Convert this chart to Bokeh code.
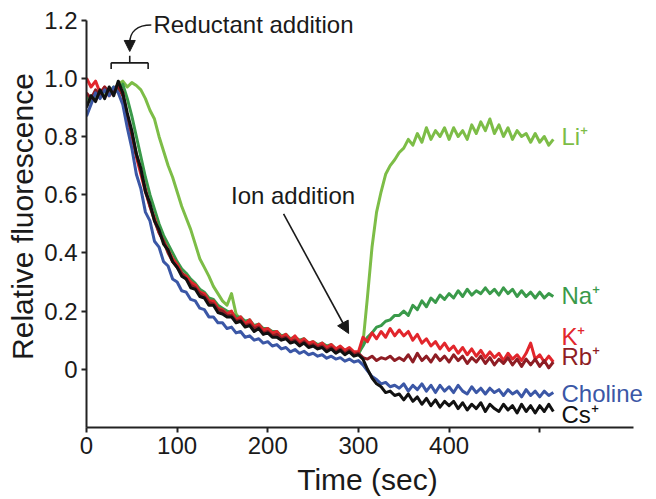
from bokeh.plotting import figure
from bokeh.models import Range1d, FixedTicker, Label, Arrow, NormalHead
from bokeh.embed import file_html
from bokeh.resources import INLINE

# time axis (sec), one sample every 5 s
time_s = list(range(0, 520, 5))

cs = [0.90, 0.94, 0.92, 0.96, 0.93, 0.97, 0.94, 0.99, 0.95, 0.88,
      0.82, 0.74, 0.69, 0.61, 0.57, 0.51, 0.48, 0.43, 0.41, 0.37,
      0.35, 0.32, 0.31, 0.28, 0.275, 0.25, 0.245, 0.22, 0.22, 0.195,
      0.19, 0.18, 0.18, 0.16, 0.165, 0.145, 0.15, 0.13, 0.14, 0.12,
      0.125, 0.11, 0.11, 0.10, 0.105, 0.09, 0.095, 0.08, 0.09, 0.075,
      0.08, 0.07, 0.075, 0.06, 0.07, 0.055, 0.065, 0.05, 0.06, 0.045,
      0.05, 0.035, 0.00, -0.03, -0.05, -0.06, -0.08, -0.075, -0.09, -0.085,
      -0.105, -0.085, -0.11, -0.095, -0.12, -0.10, -0.125, -0.105, -0.13, -0.11,
      -0.125, -0.11, -0.135, -0.115, -0.14, -0.12, -0.135, -0.115, -0.145, -0.12,
      -0.135, -0.145, -0.12, -0.14, -0.125, -0.15, -0.12, -0.145, -0.125, -0.15,
      -0.125, -0.145, -0.12, -0.145]

choline = [0.87, 0.91, 0.95, 0.93, 0.96, 0.94, 0.97, 0.95, 0.91, 0.83,
           0.76, 0.67, 0.62, 0.54, 0.51, 0.44, 0.42, 0.37, 0.355, 0.31,
           0.30, 0.27, 0.265, 0.24, 0.235, 0.21, 0.205, 0.18, 0.18, 0.16,
           0.16, 0.14, 0.145, 0.125, 0.13, 0.11, 0.115, 0.10, 0.105, 0.09,
           0.095, 0.08, 0.085, 0.07, 0.075, 0.06, 0.068, 0.055, 0.062, 0.05,
           0.055, 0.045, 0.05, 0.038, 0.045, 0.035, 0.04, 0.028, 0.035, 0.025,
           0.03, 0.015, -0.005, -0.025, -0.035, -0.05, -0.045, -0.06, -0.055, -0.065,
           -0.05, -0.075, -0.055, -0.07, -0.05, -0.075, -0.055, -0.08, -0.055, -0.075,
           -0.06, -0.08, -0.055, -0.075, -0.085, -0.06, -0.08, -0.065, -0.085, -0.065,
           -0.08, -0.07, -0.09, -0.07, -0.085, -0.075, -0.095, -0.07, -0.09, -0.075,
           -0.095, -0.075, -0.09, -0.08]

k = [1.00, 0.97, 0.99, 0.95, 0.97, 0.94, 0.96, 0.98, 0.95, 0.87,
     0.80, 0.73, 0.67, 0.61, 0.56, 0.52, 0.47, 0.44, 0.41, 0.38,
     0.36, 0.33, 0.32, 0.30, 0.29, 0.265, 0.26, 0.235, 0.235, 0.21,
     0.205, 0.19, 0.20, 0.17, 0.18, 0.155, 0.17, 0.145, 0.155, 0.135,
     0.14, 0.125, 0.13, 0.11, 0.12, 0.10, 0.115, 0.095, 0.105, 0.09,
     0.095, 0.08, 0.09, 0.075, 0.085, 0.07, 0.08, 0.065, 0.075, 0.06,
     0.06, 0.11, 0.095, 0.125, 0.105, 0.13, 0.11, 0.14, 0.115, 0.135,
     0.115, 0.13, 0.10, 0.12, 0.09, 0.105, 0.08, 0.095, 0.07, 0.09,
     0.065, 0.08, 0.055, 0.075, 0.05, 0.07, 0.045, 0.065, 0.04, 0.06,
     0.04, 0.055, 0.03, 0.055, 0.035, 0.05, 0.03, 0.055, 0.09, 0.035,
     0.05, 0.025, 0.045, 0.025]

rb = [0.95, 0.93, 0.96, 0.94, 0.97, 0.95, 0.96, 0.97, 0.94, 0.87,
      0.81, 0.74, 0.68, 0.62, 0.56, 0.51, 0.47, 0.44, 0.40, 0.37,
      0.35, 0.33, 0.31, 0.29, 0.28, 0.26, 0.25, 0.23, 0.225, 0.205,
      0.20, 0.185, 0.185, 0.165, 0.17, 0.15, 0.155, 0.14, 0.145, 0.125,
      0.13, 0.115, 0.12, 0.105, 0.11, 0.095, 0.10, 0.085, 0.095, 0.08,
      0.085, 0.075, 0.08, 0.065, 0.075, 0.06, 0.07, 0.055, 0.065, 0.05,
      0.055, 0.04, 0.035, 0.045, 0.03, 0.04, 0.035, 0.045, 0.03, 0.04,
      0.03, 0.05, 0.025, 0.055, 0.03, 0.045, 0.025, 0.05, 0.03, 0.045,
      0.025, 0.05, 0.03, 0.045, 0.02, 0.04, 0.025, 0.045, 0.02, 0.04,
      0.015, 0.035, 0.02, 0.04, 0.015, 0.035, 0.01, 0.035, 0.015, 0.035,
      0.01, 0.03, 0.005, 0.025]

na = [0.94, 0.92, 0.95, 0.94, 0.96, 0.95, 0.97, 0.96, 0.98, 0.93,
      0.87, 0.80, 0.73, 0.66, 0.60, 0.55, 0.50, 0.46, 0.43, 0.40,
      0.37, 0.345, 0.33, 0.31, 0.295, 0.275, 0.265, 0.245, 0.24, 0.22,
      0.21, 0.20, 0.195, 0.18, 0.18, 0.165, 0.17, 0.15, 0.155, 0.14,
      0.14, 0.13, 0.13, 0.115, 0.12, 0.105, 0.11, 0.10, 0.105, 0.09,
      0.095, 0.085, 0.09, 0.08, 0.085, 0.07, 0.075, 0.065, 0.07, 0.055,
      0.055, 0.08, 0.11, 0.125, 0.145, 0.15, 0.165, 0.17, 0.185, 0.185,
      0.20, 0.185, 0.22, 0.205, 0.235, 0.215, 0.245, 0.23, 0.255, 0.24,
      0.26, 0.245, 0.27, 0.25, 0.275, 0.255, 0.27, 0.26, 0.28, 0.26,
      0.275, 0.255, 0.28, 0.26, 0.275, 0.25, 0.27, 0.25, 0.265, 0.245,
      0.265, 0.245, 0.26, 0.25]

li = [0.92, 0.94, 0.93, 0.95, 0.94, 0.96, 0.95, 0.98, 0.99, 0.97,
      0.985, 0.975, 0.96, 0.93, 0.89, 0.86, 0.80, 0.75, 0.70, 0.66,
      0.61, 0.56, 0.52, 0.48, 0.43, 0.38, 0.35, 0.32, 0.285, 0.26,
      0.235, 0.22, 0.26, 0.19, 0.17, 0.16, 0.15, 0.145, 0.14, 0.13,
      0.13, 0.12, 0.12, 0.11, 0.11, 0.10, 0.10, 0.09, 0.095, 0.085,
      0.085, 0.08, 0.08, 0.07, 0.075, 0.065, 0.07, 0.06, 0.06, 0.055,
      0.05, 0.09, 0.25, 0.42, 0.54, 0.61, 0.67, 0.70, 0.72, 0.745,
      0.76, 0.79, 0.77, 0.81, 0.78, 0.83, 0.79, 0.82, 0.80, 0.83,
      0.79, 0.83, 0.80, 0.82, 0.79, 0.84, 0.81, 0.85, 0.82, 0.86,
      0.81, 0.84, 0.80, 0.83, 0.79, 0.82, 0.80, 0.81, 0.78, 0.81,
      0.78, 0.80, 0.77, 0.79]

series_names = ["Li\u207a", "Na\u207a", "K\u207a", "Rb\u207a", "Choline", "Cs\u207a"]
series_values = [li, na, k, rb, choline, cs]
series_colors = ["#7dbd47", "#3a9a4a", "#e2262c", "#8e1d24", "#3b57a6", "#111111"]
label_y = [0.80, 0.255, 0.114, 0.043, -0.082, -0.154]
label_x = 524

x_ticks = [0, 100, 200, 300, 400, 500]
x_tick_labels = ["0", "100", "200", "300", "400", ""]
y_ticks = [0, 0.2, 0.4, 0.6, 0.8, 1.0, 1.2]
y_tick_labels = ["0", "0.2", "0.4", "0.6", "0.8", "1.0", "1.2"]

FONT = "Liberation Sans"
INK = "#1a1a1a"

p = figure(width=654, height=498, output_backend="svg", toolbar_location=None,
           x_range=Range1d(0, 620), y_range=Range1d(-0.2, 1.25),
           min_border_left=86, min_border_right=6, min_border_top=5, min_border_bottom=70)
p.outline_line_color = None
p.xgrid.visible = False
p.ygrid.visible = False
p.background_fill_color = "white"

for ax in (p.xaxis[0], p.yaxis[0]):
    ax.axis_line_width = 2
    ax.axis_line_color = "#222222"
    ax.major_tick_line_width = 2
    ax.major_tick_line_color = "#222222"
    ax.major_tick_out = 5
    ax.major_tick_in = 0
    ax.minor_tick_line_color = None
    ax.major_label_text_font = FONT
    ax.major_label_text_font_size = "24px"
    ax.major_label_text_color = INK
    ax.major_label_standoff = 4
    ax.axis_label_text_font = FONT
    ax.axis_label_text_font_style = "normal"
    ax.axis_label_text_font_size = "30px"
    ax.axis_label_text_color = INK

p.xaxis.axis_label_standoff = 6
p.yaxis.axis_label_standoff = 2
p.xaxis.bounds = (0, 604)
p.yaxis.bounds = (-0.2, 1.2)
p.xaxis.ticker = FixedTicker(ticks=x_ticks)
p.xaxis.major_label_overrides = dict(zip(x_ticks, x_tick_labels))
p.yaxis.ticker = FixedTicker(ticks=y_ticks)
p.yaxis.major_label_overrides = dict(zip(y_ticks, y_tick_labels))
p.xaxis.axis_label = "Time (sec)"
p.yaxis.axis_label = "Relative fluorescence"

for vals, col in zip(series_values, series_colors):
    p.line(time_s, vals, line_color=col, line_width=3, line_join="round")

for name, col, ly in zip(series_names, series_colors, label_y):
    p.add_layout(Label(x=label_x, y=ly, text=name, text_color=col, text_font=FONT,
                       text_font_size="24px", text_baseline="middle", text_align="left"))

# annotations
p.add_layout(Label(x=73.8, y=1.183, text="Reductant addition", text_font=FONT,
                   text_font_size="24px", text_baseline="middle", text_color=INK))
p.add_layout(Label(x=159.4, y=0.597, text="Ion addition", text_font=FONT,
                   text_font_size="24px", text_baseline="middle", text_color=INK))

# bracket over the reductant addition window
br_x0 = [27.2, 27.2, 68.0, 47.7]
br_y0 = [1.053, 1.053, 1.053, 1.053]
br_x1 = [68.0, 27.2, 68.0, 47.7]
br_y1 = [1.053, 1.032, 1.032, 1.077]
p.segment(br_x0, br_y0, br_x1, br_y1, line_color=INK, line_width=1.6)

# curved arrow from the text to the bracket
p.bezier(x0=[71.5], y0=[1.183], x1=[47.7], y1=[1.12], cx0=[56.0], cy0=[1.183],
         cx1=[47.7], cy1=[1.16], line_color=INK, line_width=1.6)
p.add_layout(Arrow(end=NormalHead(size=11, fill_color=INK, line_color=INK),
                   x_start=47.7, y_start=1.125, x_end=47.7, y_end=1.092,
                   line_color=INK, line_width=1.6))

# straight arrow for ion addition
p.add_layout(Arrow(end=NormalHead(size=12, fill_color=INK, line_color=INK),
                   x_start=217.4, y_start=0.534, x_end=289.2, y_end=0.123,
                   line_color=INK, line_width=1.6))

open("out.html", "w").write(file_html(p, INLINE))
